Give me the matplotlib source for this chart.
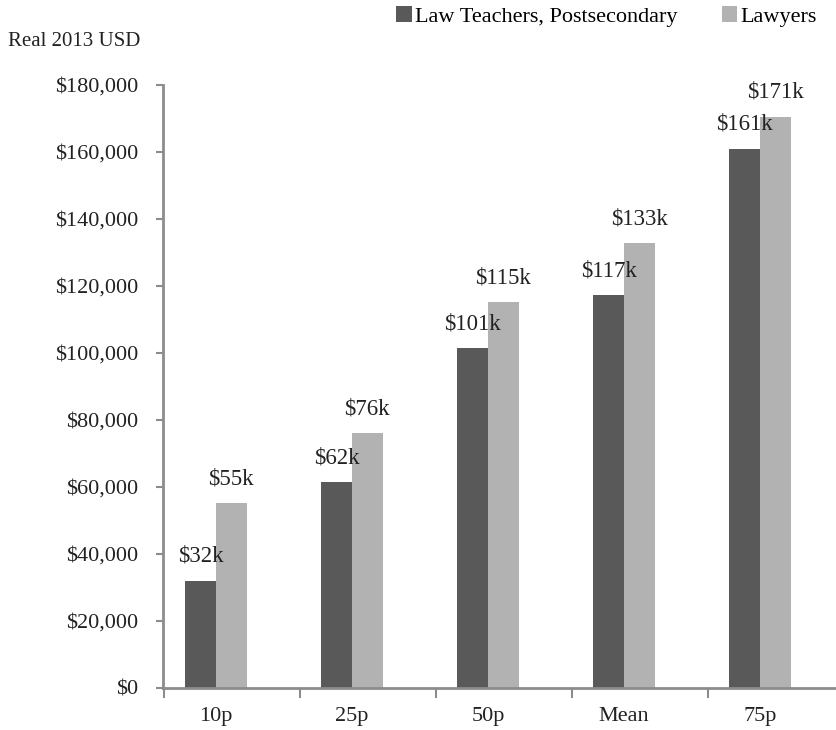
import matplotlib
matplotlib.use("Agg")
import matplotlib.pyplot as plt
import numpy as np

categories = ["10p", "25p", "50p", "Mean", "75p"]
teachers = [32000, 61500, 101500, 117300, 161000]
lawyers = [55200, 76100, 115200, 132800, 170500]
teacher_labels = ["$32k", "$62k", "$101k", "$117k", "$161k"]
lawyer_labels = ["$55k", "$76k", "$115k", "$133k", "$171k"]
series_names = ["Law Teachers, Postsecondary", "Lawyers"]

plt.rcParams['font.family'] = ['Liberation Serif', 'DejaVu Serif']

W, H = 837, 730
fig = plt.figure(figsize=(W / 100, H / 100), dpi=100)
ax = fig.add_axes([163 / W, 1 - 688 / H, (837 - 163) / W, (688 - 85) / H])

dark = "#595959"
light = "#b2b2b2"
axcol = "#8c8c8c"
bw = 0.225
x = np.arange(len(categories))
b1 = ax.bar(x - bw / 2, teachers, bw, color=dark, label=series_names[0])
b2 = ax.bar(x + bw / 2, lawyers, bw, color=light, label=series_names[1])

for rect, lab in zip(b1, teacher_labels):
    ax.annotate(lab, (rect.get_x() + rect.get_width() / 2, rect.get_height()),
                xytext=(0, 10), textcoords="offset points", ha="center", va="bottom",
                fontsize=16.5, color="#222222")
for rect, lab in zip(b2, lawyer_labels):
    ax.annotate(lab, (rect.get_x() + rect.get_width() / 2, rect.get_height()),
                xytext=(0, 10), textcoords="offset points", ha="center", va="bottom",
                fontsize=16.5, color="#222222")

ax.set_xlim(-0.39, 4.566)
ax.set_ylim(0, 180000)
ax.set_yticks(np.arange(0, 180001, 20000))
ax.set_yticklabels([f"${v:,.0f}" for v in np.arange(0, 180001, 20000)])
ax.set_xticks(x)
ax.set_xticklabels(categories)
ax.set_xticks(x - 0.382, minor=True)

for s in ["top", "right"]:
    ax.spines[s].set_visible(False)
for s in ["left", "bottom"]:
    ax.spines[s].set_color(axcol)
    ax.spines[s].set_linewidth(2)

ax.tick_params(axis="y", direction="out", length=5, width=1.5, color=axcol,
               labelsize=16, pad=13, labelcolor="#222222")
ax.tick_params(axis="x", which="major", length=0, labelsize=16, pad=14, labelcolor="#222222")
ax.tick_params(axis="x", which="minor", direction="out", length=7, width=1.5, color=axcol)

fig.text(8 / W, 1 - 41 / H, "Real 2013 USD", fontsize=15, va="center", ha="left", color="#222222")

fig.legend(handles=[b1, b2], labels=series_names, loc="upper left",
           bbox_to_anchor=(396 / W, 1 - 6 / H), ncol=2, frameon=False,
           fontsize=16, handlelength=0.7, handleheight=0.7, handletextpad=0.15,
           columnspacing=2.0, borderaxespad=0, borderpad=0)

fig.savefig("out.png", dpi=100)
